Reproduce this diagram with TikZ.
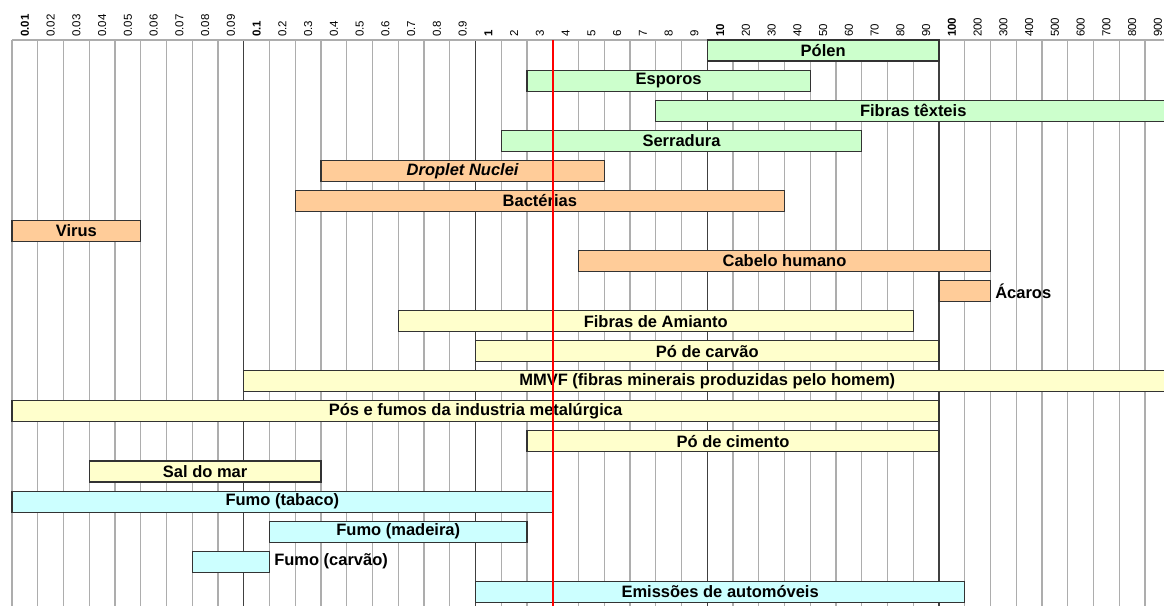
\documentclass[tikz,border=0pt]{standalone}
\usepackage{fontspec}
\setmainfont{Liberation Sans}
\definecolor{bargreen}{HTML}{CCFFCC}
\definecolor{barorange}{HTML}{FFCC99}
\definecolor{baryellow}{HTML}{FFFFCC}
\definecolor{barcyan}{HTML}{CCFFFF}
\definecolor{gridgray}{HTML}{ADADAD}
\definecolor{decadegray}{HTML}{404040}
\definecolor{barline}{HTML}{333333}

% one size band: name, first column, last column, row, fill, label
\newcommand\spanbar[6]{%
  \pgfmathsetmacro\bandxa{12+25.75*#2}%
  \pgfmathsetmacro\bandxb{12+25.75*#3}%
  \pgfmathsetmacro\bandw{\bandxb-\bandxa}%
  \pgfmathsetmacro\bandy{50.5+30.07*#4}%
  \node[barbox, fill=#5, minimum width=\bandw pt] (#1) at ({(\bandxa+\bandxb)/2},\bandy) {#6};%
}

\begin{document}
\begin{tikzpicture}[x=1pt,y=-1pt,
  gridline/.style={draw=gridgray, line width=1.1pt},
  decadeline/.style={draw=decadegray, line width=1.3pt},
  barbox/.style={draw=barline, line width=1.1pt, minimum height=21pt, inner sep=0pt,
    font=\fontsize{16.5}{18}\selectfont\bfseries},
  outlabel/.style={anchor=west, inner sep=0pt, font=\fontsize{16.5}{18}\selectfont\bfseries},
  hlabel/.style={rotate=90, anchor=west, inner sep=0pt, font=\fontsize{11.5}{12}\selectfont},
  redline/.style={draw=red, line width=2pt}]
\useasboundingbox (0,0) rectangle (1164,606);
\clip (0,0) rectangle (1164,606);
\fill[white] (0,0) rectangle (1164,606);

% vertical grid, one line per column
\foreach \k in {0,...,44} {
  \draw[gridline] ({12+25.75*\k},40) -- ({12+25.75*\k},606);
}
% decade boundaries
\foreach \k in {9,18,27,36} {
  \draw[decadeline] ({12+25.75*\k},40) -- ({12+25.75*\k},606);
}
\draw[gridline] (12,40) -- (1164,40);

% scale labels (micrometres)
\foreach \lab [count=\k from 0] in {\textbf{0.01},0.02,0.03,0.04,0.05,0.06,0.07,0.08,0.09,
  \textbf{0.1},0.2,0.3,0.4,0.5,0.6,0.7,0.8,0.9,
  \textbf{1},2,3,4,5,6,7,8,9,
  \textbf{10},20,30,40,50,60,70,80,90,
  \textbf{100},200,300,400,500,600,700,800,900} {
  \node[hlabel] (h\k) at ({12+25.75*(\k+0.5)},37) {\lab};
}

% biological particles
\spanbar{polen}{27}{36}{0}{bargreen}{Pólen}
\spanbar{esporos}{20}{31}{1}{bargreen}{Esporos}
\spanbar{textil}{25}{45}{2}{bargreen}{Fibras têxteis}
\spanbar{serradura}{19}{33}{3}{bargreen}{Serradura}
\spanbar{droplet}{12}{23}{4}{barorange}{\itshape Droplet Nuclei}
\spanbar{bacterias}{11}{30}{5}{barorange}{Bactérias}
\spanbar{virus}{0}{5}{6}{barorange}{Virus}
\spanbar{cabelo}{22}{38}{7}{barorange}{Cabelo humano}
\spanbar{acaros}{36}{38}{8}{barorange}{}
\node[outlabel] (acaroslbl) at ([xshift=4pt]acaros.east) {Ácaros};

% mineral dusts
\spanbar{amianto}{15}{35}{9}{baryellow}{Fibras de Amianto}
\spanbar{carvao}{18}{36}{10}{baryellow}{Pó de carvão}
\spanbar{mmvf}{9}{45}{11}{baryellow}{MMVF (fibras minerais produzidas pelo homem)}
\spanbar{metal}{0}{36}{12}{baryellow}{Pós e fumos da industria metalúrgica}
\spanbar{cimento}{20}{36}{13}{baryellow}{Pó de cimento}
\spanbar{sal}{3}{12}{14}{baryellow}{Sal do mar}

% smokes and combustion
\spanbar{tabaco}{0}{21}{15}{barcyan}{Fumo (tabaco)}
\spanbar{madeira}{10}{20}{16}{barcyan}{Fumo (madeira)}
\spanbar{fcarvao}{7}{10}{17}{barcyan}{}
\node[outlabel] (fcarvaolbl) at ([xshift=4pt]fcarvao.east) {Fumo (carvão)};
\spanbar{emissoes}{18}{37}{18}{barcyan}{Emissões de automóveis}

% reference limit
\coordinate (rtop) at (552.75,40);
\coordinate (rbot) at (552.75,606);
\draw[redline] (rtop) -- (rbot);
\end{tikzpicture}
\end{document}
